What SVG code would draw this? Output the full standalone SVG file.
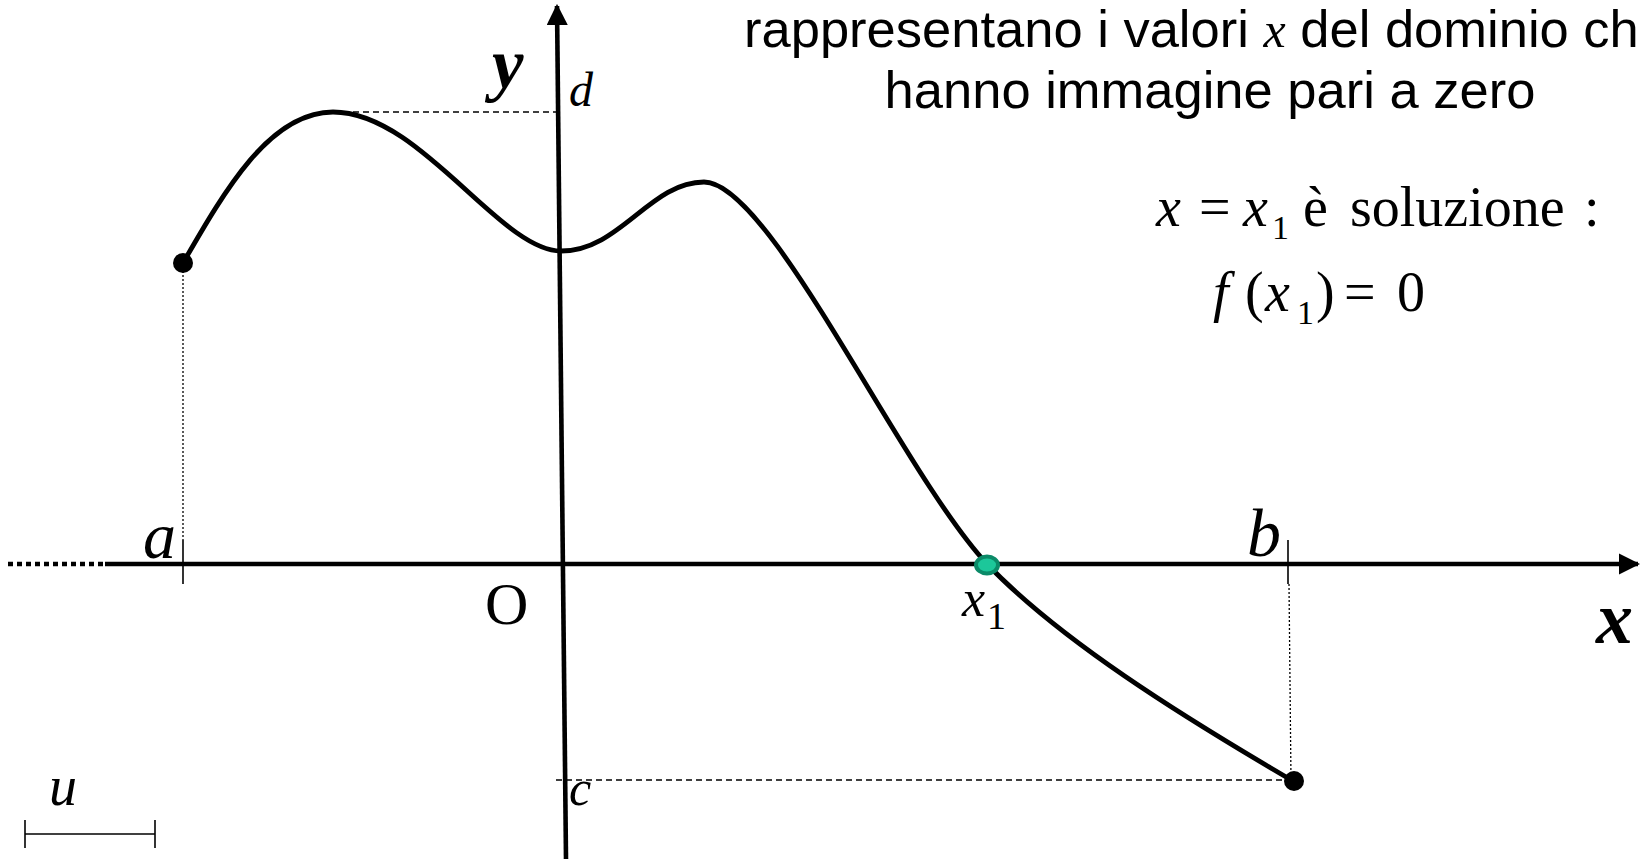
<svg xmlns="http://www.w3.org/2000/svg" width="1643" height="859" viewBox="0 0 1643 859">
<defs>
<style>
.ax{stroke:#000;stroke-width:4.6;fill:none}
.tick{stroke:#000;stroke-width:1.6;fill:none}
.dash{stroke:#000;stroke-width:1.5;stroke-dasharray:6 4;fill:none}
.dot{stroke:#000;stroke-width:1.3;stroke-dasharray:2 2;fill:none}
.curve{stroke:#000;stroke-width:4.8;fill:none;stroke-linecap:round}
.ti{font-family:"Liberation Serif",serif;font-style:italic;fill:#000}
.tr{font-family:"Liberation Serif",serif;fill:#000}
.sans{font-family:"Liberation Sans",Arial,sans-serif;fill:#000;font-size:52.5px}
</style>
<marker id="arr" viewBox="0 0 10 10" refX="9" refY="5" markerWidth="4.6" markerHeight="4.6" orient="auto" markerUnits="strokeWidth">
<path d="M0,0 L10,5 L0,10 z" fill="#000"/>
</marker>
</defs>
<rect width="1643" height="859" fill="#fff"/>
<g id="axes">
<line class="ax" x1="8" y1="564" x2="105" y2="564" stroke-dasharray="5 4"/>
<line class="ax" x1="105" y1="564" x2="1638" y2="564" marker-end="url(#arr)"/>
<line class="ax" x1="566" y1="859" x2="557" y2="6" marker-end="url(#arr)"/>
<line class="tick" x1="183" y1="540" x2="183" y2="584"/>
<line class="tick" x1="1288" y1="540" x2="1288" y2="584"/>
</g>
<g id="guides">
<line class="dash" x1="333" y1="112" x2="558" y2="112"/>
<line class="dash" x1="556" y1="780" x2="1293" y2="780"/>
<line class="dot" x1="183" y1="263" x2="183" y2="540"/>
<line class="dot" x1="1289" y1="584" x2="1291" y2="781"/>
</g>
<g id="curve">
<path class="curve" d="M183,263 C225,190 270,112 333,112 C420,112 500,251 561,251 C620,251 650,182 704,182 C770,182 900,470 987,564 C1060,640 1180,715 1293,781"/>
<circle cx="183" cy="263" r="10" fill="#000"/>
<circle cx="1294" cy="781" r="10" fill="#000"/>
<ellipse cx="987" cy="565" rx="11" ry="8.5" fill="#1cc79a" stroke="#0b8a68" stroke-width="4"/>
</g>
<g id="labels">
<text class="ti" x="143" y="558" font-size="66">a</text>
<text class="ti" x="1247" y="556" font-size="68">b</text>
<text class="tr" x="485" y="624" font-size="60">O</text>
<text class="ti" x="962" y="616" font-size="52">x</text>
<text class="tr" x="987" y="629" font-size="38">1</text>
<text class="ti" x="1596" y="643" font-size="74" font-weight="bold">x</text>
<text class="ti" x="492" y="88" font-size="71" font-weight="bold">y</text>
<text class="ti" x="569" y="106" font-size="48">d</text>
<text class="ti" x="569" y="805" font-size="50">c</text>
<text class="ti" x="49" y="805" font-size="56">u</text>
<line class="tick" x1="25" y1="834" x2="155" y2="834"/>
<line class="tick" x1="25" y1="820" x2="25" y2="848"/>
<line class="tick" x1="155" y1="820" x2="155" y2="848"/>
</g>
<g id="text">
<text class="sans" x="744" y="47">rappresentano i valori <tspan class="ti" font-size="50">x</tspan> del dominio ch</text>
<text class="sans" x="1210" y="108" text-anchor="middle">hanno immagine pari a zero</text>
<text class="ti" x="1156" y="226" font-size="56">x</text>
<text class="tr" x="1199" y="226" font-size="56">=</text>
<text class="ti" x="1243" y="226" font-size="56">x</text>
<text class="tr" x="1272" y="239" font-size="34">1</text>
<text class="tr" x="1303" y="226" font-size="56">è</text>
<text class="tr" x="1350" y="226" font-size="56">soluzione</text>
<text class="tr" x="1584" y="226" font-size="56">:</text>
<text class="ti" x="1213" y="311" font-size="56">f</text>
<text class="tr" x="1245" y="311" font-size="56">(</text>
<text class="ti" x="1265" y="311" font-size="56">x</text>
<text class="tr" x="1297" y="324" font-size="34">1</text>
<text class="tr" x="1316" y="311" font-size="56">)</text>
<text class="tr" x="1344" y="311" font-size="56">=</text>
<text class="tr" x="1397" y="311" font-size="56">0</text>
</g>
</svg>
